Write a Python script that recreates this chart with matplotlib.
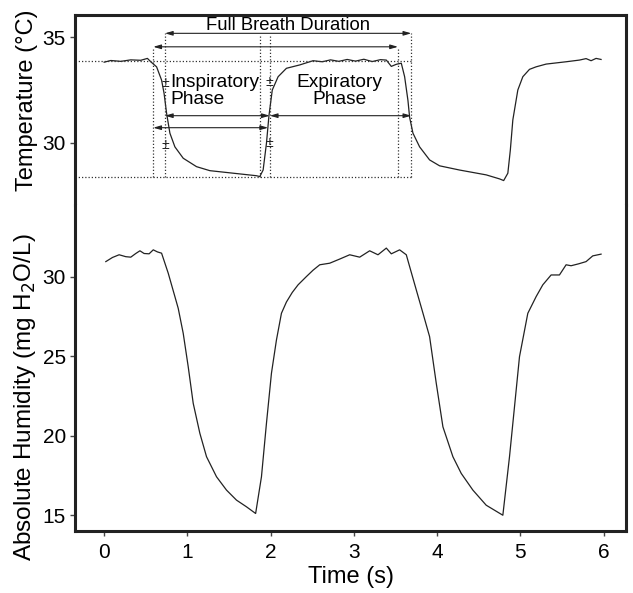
import matplotlib
matplotlib.use('Agg')
import matplotlib.pyplot as plt

plt.rcParams['font.family'] = ['Liberation Sans', 'DejaVu Sans']

# temperature trace (s, deg C)
temp_t = [0.00, 0.08, 0.20, 0.32, 0.44, 0.52, 0.56, 0.63, 0.69, 0.72,
          0.75, 0.79, 0.85, 0.95, 1.11, 1.27, 1.55, 1.83, 1.87, 1.91,
          1.95, 1.98, 2.02, 2.09, 2.19, 2.35, 2.51, 2.62, 2.72, 2.82,
          2.92, 3.02, 3.12, 3.22, 3.32, 3.39, 3.45, 3.51, 3.57, 3.61,
          3.65, 3.67, 3.71, 3.79, 3.91, 4.03, 4.27, 4.59, 4.75, 4.80,
          4.85, 4.88, 4.91, 4.97, 5.03, 5.11, 5.19, 5.31, 5.55, 5.71,
          5.79, 5.85, 5.91, 5.97]
temp = [33.82, 33.90, 33.86, 33.93, 33.91, 34.00, 33.84, 33.60, 32.97, 32.34,
        31.40, 30.45, 29.80, 29.26, 28.86, 28.67, 28.55, 28.43, 28.39, 28.70,
        29.97, 31.28, 32.50, 33.13, 33.53, 33.69, 33.89, 33.84, 33.93, 33.86,
        33.95, 33.87, 33.96, 33.85, 33.94, 33.92, 33.62, 33.72, 33.77, 33.13,
        32.00, 31.20, 30.45, 29.80, 29.18, 28.90, 28.70, 28.47, 28.28, 28.20,
        28.55, 29.65, 31.08, 32.50, 33.13, 33.48, 33.60, 33.73, 33.84, 33.92,
        33.99, 33.89, 34.00, 33.95]

# absolute humidity trace (s, mg H2O/L)
hum_t = [0.02, 0.10, 0.18, 0.26, 0.32, 0.38, 0.43, 0.48, 0.54, 0.59,
         0.64, 0.69, 0.77, 0.85, 0.89, 0.95, 1.01, 1.07, 1.15, 1.23,
         1.35, 1.47, 1.59, 1.71, 1.82, 1.89, 1.95, 2.01, 2.07, 2.13,
         2.19, 2.26, 2.33, 2.43, 2.51, 2.59, 2.71, 2.83, 2.95, 3.07,
         3.19, 3.29, 3.39, 3.45, 3.55, 3.63, 3.67, 3.75, 3.83, 3.91,
         3.99, 4.07, 4.19, 4.29, 4.43, 4.59, 4.79, 4.87, 4.93, 4.99,
         5.09, 5.19, 5.27, 5.37, 5.47, 5.55, 5.61, 5.70, 5.79, 5.87,
         5.97]
hum = [30.94, 31.20, 31.37, 31.25, 31.22, 31.45, 31.62, 31.45, 31.43, 31.68,
       31.55, 31.47, 30.21, 28.74, 28.00, 26.43, 24.33, 22.03, 20.14, 18.67,
       17.41, 16.57, 15.94, 15.52, 15.10, 17.41, 20.77, 23.92, 26.01, 27.69,
       28.40, 29.00, 29.48, 30.00, 30.40, 30.74, 30.84, 31.10, 31.37, 31.22,
       31.62, 31.37, 31.79, 31.43, 31.68, 31.37, 30.63, 29.16, 27.70, 26.22,
       23.29, 20.55, 18.67, 17.62, 16.57, 15.62, 14.99, 18.67, 21.81, 24.96,
       27.69, 28.74, 29.48, 30.10, 30.10, 30.74, 30.68, 30.80, 30.94, 31.30,
       31.41]

# phase markers on the temperature trace
t_high = 33.88
t_low = 28.39
mark_x = [0.59, 0.73, 1.87, 1.99, 3.53, 3.69]
mark_top = [34.55, 35.19, 35.10, 35.10, 34.55, 35.19]

xmin, xmax = -0.35, 6.27

fig = plt.figure(figsize=(6.33, 5.93), dpi=100)
L, W = 0.1185, 0.8705
ax_t = fig.add_axes([L, 0.6543, W, 0.3204])
ax_h = fig.add_axes([L, 0.1046, W, 0.5497], sharex=ax_t)

ax_t.plot(temp_t, temp, color='#222222', lw=0.9)
ax_h.plot(hum_t, hum, color='#222222', lw=0.9)

dot = dict(color='#333333', lw=0.9, linestyle=(0, (1, 1.6)))
ax_t.hlines([t_high, t_low], xmin, 3.69, **dot)
for x, top in zip(mark_x, mark_top):
    ax_t.vlines(x, t_low, top, **dot)


def arrow(ax, x0, x1, y):
    ax.annotate('', xy=(x1, y), xytext=(x0, y),
                arrowprops=dict(arrowstyle='<|-|>,head_length=0.45,head_width=0.13',
                                color='#222222', lw=0.8, shrinkA=0, shrinkB=0))


arrow(ax_t, 0.73, 3.69, 35.19)
arrow(ax_t, 0.59, 3.53, 34.55)
arrow(ax_t, 0.73, 1.99, 31.28)
arrow(ax_t, 1.99, 3.69, 31.28)
arrow(ax_t, 0.59, 1.97, 30.71)

ax_t.text(2.21, 35.56, 'Full Breath Duration', ha='center', va='center', fontsize=13.3)
ax_t.text(0.79, 32.45, 'Inspiratory\nPhase', ha='left', va='center', fontsize=13.8,
          linespacing=0.95)
ax_t.text(2.83, 32.45, 'Expiratory\nPhase', ha='center', va='center', fontsize=13.8,
          linespacing=0.95)
for x, y in [(0.73, 32.83), (0.73, 29.9), (1.99, 32.9), (1.99, 30.0)]:
    ax_t.text(x, y, '±', ha='center', va='center', fontsize=10, color='#222222')

ax_t.set_xlim(xmin, xmax)
ax_t.set_ylim(27.04, 36.06)
ax_h.set_ylim(14.0, 34.5)

ax_t.set_yticks([30, 35])
ax_h.set_yticks([15, 20, 25, 30])
ax_h.set_xticks(range(7))

for ax in (ax_t, ax_h):
    for s in ax.spines.values():
        s.set_linewidth(2.2)
        s.set_color('#222222')
    ax.tick_params(axis='both', direction='out', length=3.5, width=1,
                   labelsize=15, pad=3, color='#444444')
    ax.tick_params(axis='x', pad=5)

ax_t.spines['bottom'].set_visible(False)
ax_h.spines['top'].set_visible(False)
ax_t.tick_params(axis='x', bottom=False, labelbottom=False)

ax_t.set_ylabel('Temperature (°C)', fontsize=17)
ax_h.set_ylabel('Absolute Humidity (mg H$_2$O/L)', fontsize=17.5)
ax_h.set_xlabel('Time (s)', fontsize=17, labelpad=3)
ax_t.yaxis.set_label_coords(-0.067, 0.55)
ax_h.yaxis.set_label_coords(-0.067, 0.41)

fig.savefig('out.png', dpi=100)
